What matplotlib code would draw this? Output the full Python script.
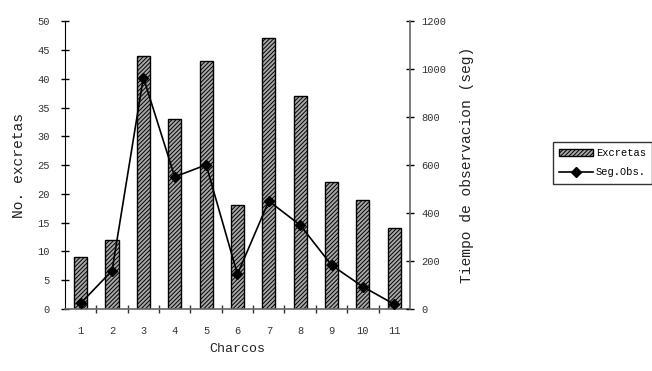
import matplotlib
matplotlib.use("Agg")
import matplotlib.pyplot as plt
import numpy as np

plt.rcParams['hatch.linewidth'] = 0.7
plt.rcParams['hatch.color'] = '#2a2a2a'
plt.rcParams['font.family'] = ['Liberation Mono', 'DejaVu Sans']

charcos = ["1", "2", "3", "4", "5", "6", "7", "8", "9", "10", "11"]
excretas = [9, 12, 44, 33, 43, 18, 47, 37, 22, 19, 14]
seg_obs = [24, 160, 965, 551, 601, 145, 450, 350, 183, 93, 20]
left_ticks = [0, 5, 10, 15, 20, 25, 30, 35, 40, 45, 50]
right_ticks = [0, 200, 400, 600, 800, 1000, 1200]

fig = plt.figure(figsize=(6.52, 3.71), dpi=100)
ax = fig.add_axes([0.0997, 0.167, 0.529, 0.776])
ax2 = ax.twinx()

x = np.arange(1, len(charcos) + 1)
bars = ax.bar(x, excretas, width=0.42, facecolor='#a8a8a8', edgecolor='black',
              hatch='////////', linewidth=1.0, label='Excretas', zorder=2)
ln, = ax2.plot(x, seg_obs, color='black', lw=1.2, marker='D', markersize=5.5,
               label='Seg.Obs.', zorder=3)

ax.set_xlim(0.5, len(charcos) + 0.5)
ax.set_ylim(0, 50)
ax2.set_ylim(0, 1200)
ax.set_yticks(left_ticks)
ax.set_yticklabels([str(v) for v in left_ticks])
ax2.set_yticks(right_ticks)
ax2.set_yticklabels([str(v) for v in right_ticks])

ax.set_xticks(x)
ax.set_xticklabels(charcos)
ax.set_xticks(np.arange(1.5, len(charcos), 1.0), minor=True)
ax.tick_params(axis='x', which='major', length=0, pad=12, labelsize=7.5, labelcolor='#333333')
ax.tick_params(axis='x', which='minor', direction='inout', length=6, width=1, color='#333333')
ax.tick_params(axis='y', direction='inout', length=6, width=1, labelsize=7.5, labelcolor='#333333', pad=8)
ax2.tick_params(axis='y', direction='inout', length=6, width=1, labelsize=7.5, labelcolor='#333333', pad=5)

for a in (ax, ax2):
    a.spines['top'].set_visible(False)
ax.spines['right'].set_visible(False)
ax2.spines['left'].set_visible(False)
ax2.spines['bottom'].set_visible(False)
ax.spines['left'].set_color('black')
ax.spines['bottom'].set_color('#666666')
ax.spines['bottom'].set_linewidth(1.2)
ax2.spines['right'].set_color('#666666')
ax2.spines['right'].set_linewidth(1.2)

ax.set_ylabel('No. excretas', fontsize=10.5, color='#222222', labelpad=8)
ax2.set_ylabel('Tiempo de observacion (seg)', fontsize=10.5, color='#222222', labelpad=10)
ax.set_xlabel('Charcos', fontsize=9.5, color='#222222', labelpad=5)

leg = fig.legend([bars, ln], ['Excretas', 'Seg.Obs.'], loc='upper left',
                 bbox_to_anchor=(0.8405, 0.632), frameon=True, fancybox=False,
                 edgecolor='black', fontsize=7.5, handlelength=3.2,
                 borderpad=0.6, labelspacing=0.9, handletextpad=0.3)
leg.get_frame().set_linewidth(1.0)

fig.savefig('out.png', dpi=100)
